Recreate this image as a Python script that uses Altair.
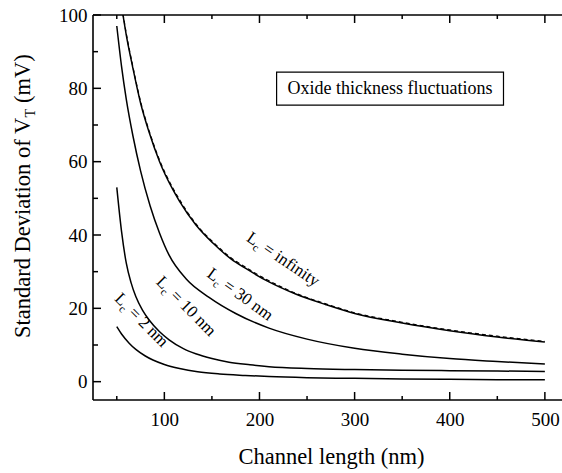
import altair as alt
import pandas as pd

SERIF = "Liberation Serif"

# Threshold-voltage spread vs. channel length for several correlation lengths L_c
inf_nm = [56.5, 60, 66.7, 75, 84, 95, 108.7, 116, 133, 151, 170, 186, 210, 238, 270, 300, 350, 400, 450, 500]
inf_mV = [100, 94.5, 85.8, 76, 68, 60, 52.5, 49.2, 42.8, 37.8, 33.5, 30.8, 27.2, 23.9, 21.0, 18.6, 16.0, 13.9, 12.2, 10.8]
# analytic large-L_c limit, drawn dashed over the simulated curve
inf_fit_mV = [100.4, 94.9, 86.2, 76.4, 68.4, 60.4, 52.9, 49.6, 43.1, 38.1, 33.8, 31.1, 27.5, 24.1, 21.2, 18.8, 16.2, 14.1, 12.4, 11.0]

c30_nm = [50, 55, 60, 67, 75, 85, 95, 105, 123, 147, 175, 210, 250, 300, 350, 400, 450, 500]
c30_mV = [97, 86, 77, 67, 57.5, 48, 40.5, 34.5, 28, 23, 18.6, 14.6, 11.6, 9.1, 7.5, 6.3, 5.5, 4.8]

c10_nm = [50, 55, 60, 65, 70, 77, 84, 95, 105, 120, 133, 150, 168, 190, 210, 250, 300, 350, 400, 450, 500]
c10_mV = [53, 41, 32.3, 27, 23.2, 19.5, 16.8, 13.6, 11.4, 9.0, 7.6, 6.3, 5.3, 4.6, 4.1, 3.6, 3.3, 3.1, 3.0, 2.9, 2.8]

c2_nm = [50, 55, 63, 70, 80, 88, 100, 116, 135, 158, 185, 210, 250, 300, 350, 400, 450, 500]
c2_mV = [15, 13, 10.5, 8.8, 7.0, 5.9, 4.7, 3.6, 2.7, 2.1, 1.7, 1.4, 1.1, 0.9, 0.75, 0.65, 0.55, 0.5]

x_major = [100, 200, 300, 400, 500]
x_minor = [50, 150, 250, 350, 450]
y_major = [0, 20, 40, 60, 80, 100]
y_minor = [10, 30, 50, 70, 90]

W, H = 469, 385
xs = alt.Scale(domain=[25, 518], nice=False, zero=False)
ys = alt.Scale(domain=[-5, 100], nice=False, zero=False)

# one shared axis definition per direction, reused by every layer so they merge
AX = alt.Axis(
    values=x_major, ticks=False, tickSize=0, domain=False, grid=False,
    labelFont=SERIF, labelFontSize=19, labelColor="black", labelPadding=10,
    title="Channel length (nm)", titleFont=SERIF, titleFontSize=22.5,
    titleFontWeight="normal", titleColor="black", titleX=238, titleY=63,
    titleBaseline="alphabetic", titleAlign="center")
AY = alt.Axis(
    values=y_major, ticks=False, tickSize=0, domain=False, grid=False,
    labelFont=SERIF, labelFontSize=19, labelColor="black", labelPadding=6,
    title="")


def X(field):
    return alt.X(field, scale=xs, axis=AX)


def Y(field):
    return alt.Y(field, scale=ys, axis=AY)


def series(name, xv, yv):
    return pd.DataFrame({"Lc": name, "nm": xv, "mV": yv})


curves = pd.concat([
    series("infinity", inf_nm, inf_mV),
    series("30 nm", c30_nm, c30_mV),
    series("10 nm", c10_nm, c10_mV),
    series("2 nm", c2_nm, c2_mV),
])
fit = series("fit", inf_nm, inf_fit_mV)

lines = alt.Chart(curves).mark_line(
    color="black", strokeWidth=1.5, interpolate="monotone", clip=True
).encode(x=X("nm:Q"), y=Y("mV:Q"), detail="Lc:N")

fit_line = alt.Chart(fit).mark_line(
    color="black", strokeWidth=1.2, strokeDash=[4, 3], interpolate="monotone", clip=True
).encode(x=X("nm:Q"), y=Y("mV:Q"))

one = pd.DataFrame({"k": [0]})

# plot frame (left, top, bottom)
frame = [
    alt.Chart(one).mark_rule(color="black", strokeWidth=1.6).encode(
        x=alt.value(0), y=alt.value(0), y2=alt.value(H)),
    alt.Chart(one).mark_rule(color="black", strokeWidth=1.6).encode(
        x=alt.value(0), x2=alt.value(W), y=alt.value(0)),
    alt.Chart(one).mark_rule(color="black", strokeWidth=1.6).encode(
        x=alt.value(0), x2=alt.value(W), y=alt.value(H)),
]


# inward ticks on the visible sides
def xticks(vals, length):
    d = pd.DataFrame({"nm": vals})
    bottom = alt.Chart(d).mark_rule(color="black", strokeWidth=1.5).encode(
        x=X("nm:Q"), y=alt.value(H), y2=alt.value(H - length))
    top = alt.Chart(d).mark_rule(color="black", strokeWidth=1.5).encode(
        x=X("nm:Q"), y=alt.value(0), y2=alt.value(length))
    return [bottom, top]


def yticks(vals, length):
    d = pd.DataFrame({"mV": vals})
    return [alt.Chart(d).mark_rule(color="black", strokeWidth=1.5).encode(
        y=Y("mV:Q"), x=alt.value(0), x2=alt.value(length))]


ticks = xticks(x_major, 8) + xticks(x_minor, 4) + yticks(y_major, 8) + yticks(y_minor, 5)


# curve labels "L_c = ..." written along the curves
def curve_label(x, y, angle, rest):
    d = pd.DataFrame({"nm": [x], "mV": [y]})
    base = alt.Chart(d).encode(x=X("nm:Q"), y=Y("mV:Q"))
    common = dict(angle=angle, align="left", baseline="alphabetic", font=SERIF, color="black")
    return [
        base.mark_text(text="L", fontSize=17, **common),
        base.mark_text(text="c", fontSize=11, dx=10.4, dy=4, **common),
        base.mark_text(text=rest, fontSize=17, dx=20, **common),
    ]


labels = (
    curve_label(185.2, 38.6, 34, "= infinity")
    + curve_label(143.8, 28.8, 36, "= 30 nm")
    + curve_label(90.5, 27.0, 45, "= 10 nm")
    + curve_label(46.7, 22.4, 45, "= 2 nm")
)

# boxed annotation
box_df = pd.DataFrame({"nm": [218], "nm2": [456.5], "mV": [75.4], "mV2": [84.4]})
box = alt.Chart(box_df).mark_rect(fill="white", stroke="black", strokeWidth=1.2).encode(
    x=X("nm:Q"), x2="nm2:Q", y=Y("mV:Q"), y2="mV2:Q")
note_df = pd.DataFrame({"nm": [337.1], "mV": [78.5], "t": ["Oxide thickness fluctuations"]})
note = alt.Chart(note_df).mark_text(
    font=SERIF, fontSize=18, align="center", baseline="alphabetic", color="black"
).encode(x=X("nm:Q"), y=Y("mV:Q"), text="t:N")

# y-axis title with subscripted T
ytitle_common = dict(angle=270, align="left", baseline="alphabetic", font=SERIF, color="black")
main_txt = "Standard Deviation of V"
main_w = 9.804 * 22.5
ytitle = [
    alt.Chart(one).mark_text(text=main_txt, fontSize=22.5, **ytitle_common).encode(
        x=alt.value(-63), y=alt.value(323)),
    alt.Chart(one).mark_text(text="T", fontSize=14.5, dx=main_w, dy=5, **ytitle_common).encode(
        x=alt.value(-63), y=alt.value(323)),
    alt.Chart(one).mark_text(text="(mV)", fontSize=22.5, dx=main_w + 8.9 + 5.6, **ytitle_common).encode(
        x=alt.value(-63), y=alt.value(323)),
]

chart = alt.layer(
    lines, fit_line, *frame, *ticks, *labels, box, note, *ytitle
).properties(
    width=W, height=H,
    autosize=alt.AutoSizeParams(type="none"),
    padding={"left": 93, "top": 15, "right": 0, "bottom": 73},
    background="white",
).configure_view(stroke=None)

chart.save("out.html", embed_options={"renderer": "svg", "actions": False})
